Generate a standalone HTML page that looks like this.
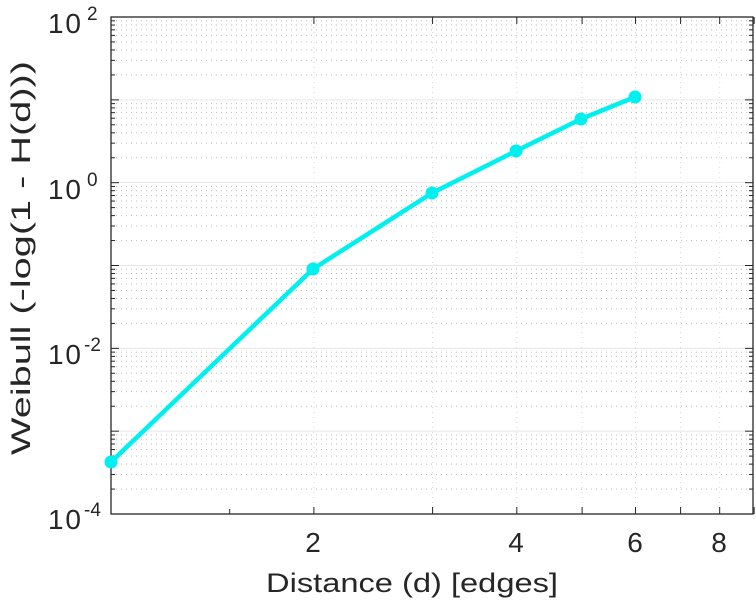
<!DOCTYPE html>
<html><head><meta charset="utf-8"><style>
body{margin:0;background:#fff;width:756px;height:600px;overflow:hidden}
text{font-family:"Liberation Sans",sans-serif;fill:#262626}
</style></head><body>
<svg id="s" width="756" height="600" xmlns="http://www.w3.org/2000/svg">
<g id="grid"></g>
<rect x="111" y="17" width="642" height="497" fill="none" stroke="#262626" stroke-width="1.3"/>
<g id="ticks" stroke="#262626" stroke-width="1"></g>
<polyline fill="none" stroke="#00f0f0" stroke-width="4.5" stroke-linejoin="round" points="111,462 313,269 432,193 516,151 581,119 635,97"/>
<g fill="#00f0f0" stroke="#00f0f0" stroke-width="3">
<circle cx="111" cy="462" r="5"/><circle cx="313" cy="269" r="5"/><circle cx="432" cy="193" r="5"/><circle cx="516" cy="151" r="5"/><circle cx="581" cy="119" r="5"/><circle cx="635" cy="97" r="5"/>
</g>
<g font-size="28">
<text x="48" y="33" textLength="33">10</text><text x="87" y="20" font-size="19">2</text>
<text x="48" y="199" textLength="33">10</text><text x="87" y="186" font-size="19">0</text>
<text x="48" y="364" textLength="33">10</text><text x="84" y="351" font-size="19">-2</text>
<text x="48" y="529" textLength="33">10</text><text x="84" y="516" font-size="19">-4</text>
</g>
<g font-size="27" text-anchor="middle">
<text x="313" y="552" font-size="28">2</text><text x="516" y="552" font-size="28">4</text><text x="635" y="552" font-size="28">6</text><text x="719" y="552" font-size="28">8</text>
<text x="412" y="592" textLength="292" lengthAdjust="spacingAndGlyphs">Distance (d) [edges]</text>
<text transform="translate(30,258) rotate(-90)" textLength="394" lengthAdjust="spacingAndGlyphs">Weibull (-log(1 - H(d)))</text>
</g>
</svg>
<script>
var g=document.getElementById('grid'),t=document.getElementById('ticks'),ns='http://www.w3.org/2000/svg';
function L(p,x1,y1,x2,y2,c,d,w){var l=document.createElementNS(ns,'line');l.setAttribute('x1',x1);l.setAttribute('y1',y1);l.setAttribute('x2',x2);l.setAttribute('y2',y2);l.setAttribute('stroke',c);l.setAttribute('stroke-width',w||1);if(d)l.setAttribute('stroke-dasharray',d);p.appendChild(l);}
function Y(v){return 514-(Math.log10(v)+4)*82.83;}
function X(v){return 111+Math.log10(v)*674;}
for(var e=-4;e<2;e++){for(var k=1;k<10;k++){var y=Y(k*Math.pow(10,e));if(k==1){L(g,111,y,753,y,'#e6e6e6');L(t,111,y,119,y,'#262626');L(t,753,y,745,y,'#262626');}else{L(g,111,y,753,y,'#bdbdbd','1,4');L(t,111,y,115,y,'#262626');L(t,753,y,749,y,'#262626');}}}
for(var k=2;k<=9;k++){var x=X(k);if(k<9){L(g,x,17,x,514,'#d9d9d9','1,4');}L(t,x,514,x,507,'#262626');L(t,x,17,x,24,'#262626');}
L(t,X(1.5),514,X(1.5),509,'#262626');
</script>
</body></html>
